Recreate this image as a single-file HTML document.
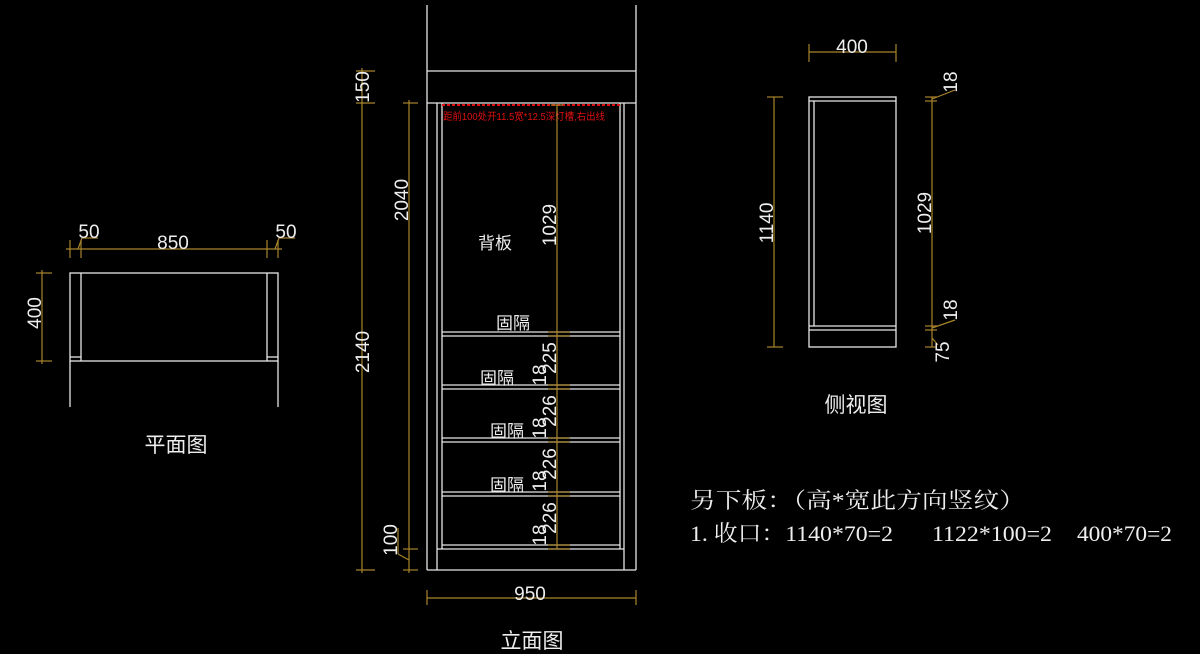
<!DOCTYPE html>
<html><head><meta charset="utf-8"><style>
html,body{margin:0;padding:0;background:#000;width:1200px;height:654px;overflow:hidden}
svg{display:block}
.w{stroke:#e6e6e6;stroke-width:1.3;fill:none}
.d{stroke:#a8842c;stroke-width:1.2;fill:none}
text{fill:#eee;font-family:"Liberation Sans","Noto Sans CJK SC",sans-serif}
.dt{font-size:19px}
.cn{font-size:17px}
.sf{font-family:"Liberation Serif","Noto Serif CJK SC",serif;font-size:22px}
</style></head><body>
<svg width="1200" height="654" viewBox="0 0 1200 654" xmlns="http://www.w3.org/2000/svg">
<!-- PLAN VIEW -->
<g class="w">
<rect x="70" y="273" width="208" height="88"/>
<line x1="81" y1="273" x2="81" y2="361"/><line x1="267" y1="273" x2="267" y2="361"/>
<line x1="70" y1="357" x2="81" y2="357"/><line x1="267" y1="357" x2="278" y2="357"/>
<line x1="70" y1="361" x2="70" y2="407"/><line x1="278" y1="361" x2="278" y2="407"/>
</g>
<g class="d">
<line x1="66" y1="249" x2="282" y2="249"/>
<line x1="70" y1="240" x2="70" y2="258"/><line x1="81" y1="240" x2="81" y2="258"/>
<line x1="267" y1="240" x2="267" y2="258"/><line x1="278" y1="240" x2="278" y2="258"/>
<line x1="78" y1="249" x2="82" y2="238"/><line x1="82" y1="238" x2="98" y2="238"/>
<line x1="275" y1="249" x2="279" y2="238"/><line x1="279" y1="238" x2="295" y2="238"/>
<line x1="42" y1="270" x2="42" y2="364"/>
<line x1="36" y1="273" x2="52" y2="273"/><line x1="36" y1="361" x2="52" y2="361"/>
</g>
<text class="dt" x="89" y="238" text-anchor="middle">50</text>
<text class="dt" x="173" y="249" text-anchor="middle">850</text>
<text class="dt" x="286" y="238" text-anchor="middle">50</text>
<text class="dt" transform="translate(41,313) rotate(-90)" text-anchor="middle">400</text>
<text x="176" y="452" font-size="21" text-anchor="middle">平面图</text>

<!-- ELEVATION -->
<g class="w">
<line x1="427" y1="5" x2="427" y2="570"/><line x1="636" y1="5" x2="636" y2="570"/>
<line x1="427" y1="71" x2="636" y2="71"/><line x1="427" y1="103" x2="636" y2="103"/>
<line x1="427" y1="570" x2="636" y2="570"/>
<line x1="437" y1="103" x2="437" y2="570"/><line x1="442" y1="103" x2="442" y2="549"/>
<line x1="620" y1="103" x2="620" y2="549"/><line x1="624" y1="103" x2="624" y2="570"/>
<line x1="437" y1="549" x2="624" y2="549"/>
<line x1="442" y1="332" x2="620" y2="332"/><line x1="442" y1="336" x2="620" y2="336"/>
<line x1="442" y1="385" x2="620" y2="385"/><line x1="442" y1="389" x2="620" y2="389"/>
<line x1="442" y1="438" x2="620" y2="438"/><line x1="442" y1="442" x2="620" y2="442"/>
<line x1="442" y1="492" x2="620" y2="492"/><line x1="442" y1="496" x2="620" y2="496"/>
<line x1="442" y1="545" x2="620" y2="545"/>
</g>
<line x1="442" y1="105" x2="620" y2="105" stroke="#e01010" stroke-width="2" stroke-dasharray="3,2"/>
<text x="443" y="120" font-size="10" style="fill:#e01010" textLength="162" lengthAdjust="spacingAndGlyphs">距前100处开11.5宽*12.5深灯槽,右出线</text>
<g class="d">
<line x1="557" y1="105" x2="557" y2="549"/>
<line x1="551" y1="105" x2="563" y2="105"/>
<line x1="548" y1="332" x2="570" y2="332"/><line x1="548" y1="336" x2="570" y2="336"/>
<line x1="548" y1="385" x2="570" y2="385"/><line x1="548" y1="389" x2="570" y2="389"/>
<line x1="548" y1="438" x2="570" y2="438"/><line x1="548" y1="442" x2="570" y2="442"/>
<line x1="548" y1="492" x2="570" y2="492"/><line x1="548" y1="496" x2="570" y2="496"/>
<line x1="548" y1="545" x2="570" y2="545"/><line x1="548" y1="549" x2="570" y2="549"/>
<line x1="362" y1="68" x2="362" y2="573"/>
<line x1="356" y1="71" x2="375" y2="71"/><line x1="356" y1="103" x2="375" y2="103"/><line x1="356" y1="570" x2="375" y2="570"/>
<line x1="409" y1="100" x2="409" y2="573"/>
<line x1="403" y1="103" x2="418" y2="103"/><line x1="403" y1="549" x2="418" y2="549"/><line x1="403" y1="570" x2="418" y2="570"/>
<line x1="398" y1="528" x2="398" y2="554"/><line x1="398" y1="554" x2="409" y2="560"/>
<line x1="427" y1="590" x2="427" y2="605"/><line x1="636" y1="590" x2="636" y2="605"/>
<line x1="427" y1="598" x2="636" y2="598"/>
</g>
<text class="dt" transform="translate(369,87) rotate(-90)" text-anchor="middle">150</text>
<text class="dt" transform="translate(369,352) rotate(-90)" text-anchor="middle">2140</text>
<text class="dt" transform="translate(408,200) rotate(-90)" text-anchor="middle">2040</text>
<text class="dt" transform="translate(397,540) rotate(-90)" text-anchor="middle">100</text>
<text class="dt" transform="translate(556,225) rotate(-90)" text-anchor="middle">1029</text>
<text class="dt" transform="translate(556,358) rotate(-90)" text-anchor="middle">225</text>
<text class="dt" transform="translate(556,411) rotate(-90)" text-anchor="middle">226</text>
<text class="dt" transform="translate(556,464) rotate(-90)" text-anchor="middle">226</text>
<text class="dt" transform="translate(556,518) rotate(-90)" text-anchor="middle">226</text>
<text class="dt" transform="translate(546,375) rotate(-90)" text-anchor="middle">18</text>
<text class="dt" transform="translate(546,428) rotate(-90)" text-anchor="middle">18</text>
<text class="dt" transform="translate(546,481) rotate(-90)" text-anchor="middle">18</text>
<text class="dt" transform="translate(546,535) rotate(-90)" text-anchor="middle">18</text>
<text class="cn" x="495" y="249" text-anchor="middle">背板</text>
<text class="cn" x="513" y="329" text-anchor="middle">固隔</text>
<text class="cn" x="497" y="384" text-anchor="middle">固隔</text>
<text class="cn" x="507" y="437" text-anchor="middle">固隔</text>
<text class="cn" x="507" y="491" text-anchor="middle">固隔</text>
<text class="dt" x="530" y="600" text-anchor="middle">950</text>
<text x="532" y="648" font-size="21" text-anchor="middle">立面图</text>

<!-- SIDE VIEW -->
<g class="w">
<rect x="809" y="97" width="87" height="250"/>
<line x1="809" y1="101" x2="896" y2="101"/>
<line x1="814" y1="101" x2="814" y2="326"/>
<line x1="809" y1="326" x2="896" y2="326"/><line x1="809" y1="330" x2="896" y2="330"/>
</g>
<g class="d">
<line x1="809" y1="44" x2="809" y2="62"/><line x1="896" y1="44" x2="896" y2="62"/>
<line x1="809" y1="52" x2="896" y2="52"/>
<line x1="774" y1="97" x2="774" y2="347"/>
<line x1="767" y1="97" x2="783" y2="97"/><line x1="767" y1="347" x2="783" y2="347"/>
<line x1="932" y1="97" x2="932" y2="347"/>
<line x1="925" y1="97" x2="937" y2="97"/><line x1="925" y1="101" x2="937" y2="101"/>
<line x1="925" y1="326" x2="937" y2="326"/><line x1="925" y1="330" x2="937" y2="330"/><line x1="925" y1="347" x2="937" y2="347"/>
<line x1="932" y1="99" x2="955" y2="90"/><line x1="932" y1="328" x2="955" y2="320"/><line x1="932" y1="338" x2="938" y2="345"/>
</g>
<text class="dt" x="852" y="53" text-anchor="middle">400</text>
<text class="dt" transform="translate(773,223) rotate(-90)" text-anchor="middle">1140</text>
<text class="dt" transform="translate(931,213) rotate(-90)" text-anchor="middle">1029</text>
<text class="dt" transform="translate(957,82) rotate(-90)" text-anchor="middle">18</text>
<text class="dt" transform="translate(957,310) rotate(-90)" text-anchor="middle">18</text>
<text class="dt" transform="translate(949,352) rotate(-90)" text-anchor="middle">75</text>
<text x="856" y="412" font-size="21" text-anchor="middle">侧视图</text>

<text class="sf" x="690" y="508" textLength="335" lengthAdjust="spacingAndGlyphs">另下板：（高*宽此方向竖纹）</text>
<text class="sf" x="690" y="541" textLength="203" lengthAdjust="spacingAndGlyphs">1. 收口：1140*70=2</text>
<text class="sf" x="932" y="541" textLength="120" lengthAdjust="spacingAndGlyphs">1122*100=2</text>
<text class="sf" x="1077" y="541" textLength="95" lengthAdjust="spacingAndGlyphs">400*70=2</text>
</svg>
</body></html>
